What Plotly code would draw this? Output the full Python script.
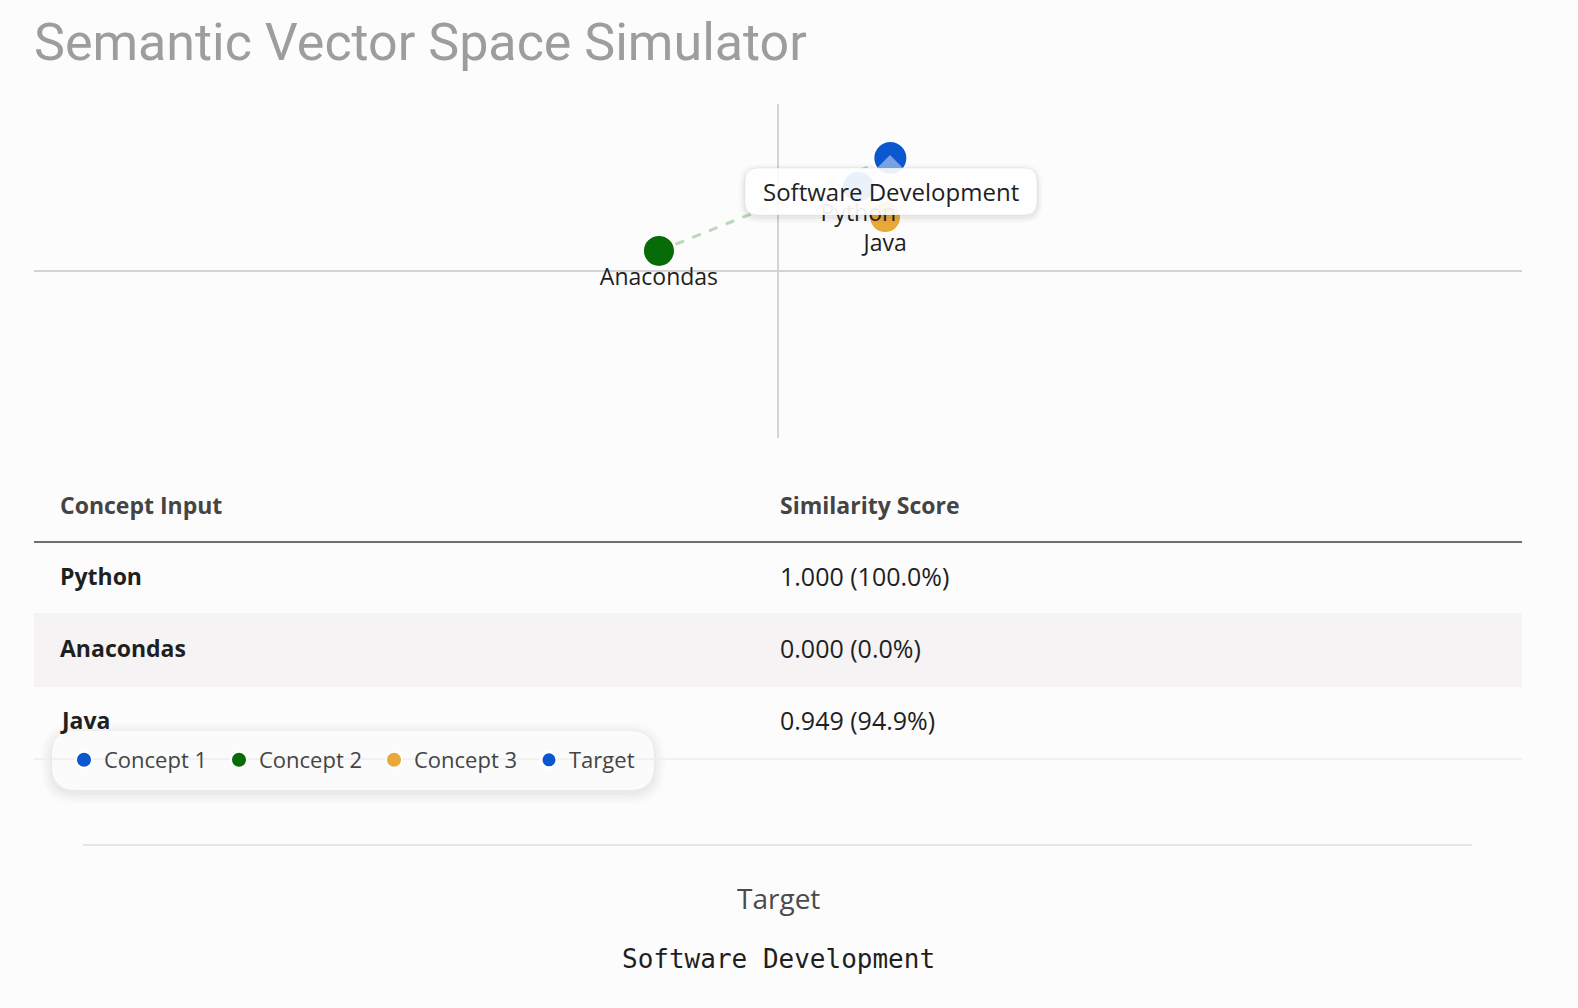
import plotly.graph_objects as go

W, H = 1578, 1008

# ---------------- data ----------------
concept_names = ["Python", "Anacondas", "Java"]
legend_names = ["Concept 1", "Concept 2", "Concept 3"]
concept_x = [0.108, -0.160, 0.144]
concept_y = [0.505, 0.120, 0.323]
concept_colors = ["#0b57d0", "#076b07", "#eaa83a"]
target_name = "Software Development"
target_x = 0.151
target_y = 0.677
target_color = "#0b57d0"
similarity = [1.000, 0.000, 0.949]
table_headers = ["Concept Input", "Similarity Score"]
title_text = "Semantic Vector Space Simulator"

FONT = "Open Sans"


def px(x):
    return x / W


def py(y):
    return 1 - y / H


def rrect(l, t, r, b, rad):
    pts = [
        ("M", l + rad, t), ("L", r - rad, t), ("Q", r, t, r, t + rad),
        ("L", r, b - rad), ("Q", r, b, r - rad, b), ("L", l + rad, b),
        ("Q", l, b, l, b - rad), ("L", l, t + rad), ("Q", l, t, l + rad, t),
    ]
    s = []
    for p in pts:
        if p[0] == "Q":
            s.append(f"Q {px(p[1]):.5f},{py(p[2]):.5f} {px(p[3]):.5f},{py(p[4]):.5f}")
        else:
            s.append(f"{p[0]} {px(p[1]):.5f},{py(p[2]):.5f}")
    return " ".join(s) + " Z"


fig = go.Figure()

# dashed links concept -> target
for i in range(len(concept_names)):
    fig.add_trace(go.Scatter(
        x=[concept_x[i], target_x], y=[concept_y[i], target_y], mode="lines",
        line=dict(color=concept_colors[i], width=3, dash="dash"), opacity=0.25,
        showlegend=False, hoverinfo="skip"))

# concept markers
for i in range(len(concept_names)):
    fig.add_trace(go.Scatter(
        x=[concept_x[i]], y=[concept_y[i]], mode="markers", name=legend_names[i],
        marker=dict(size=32, color=concept_colors[i], line=dict(color="white", width=2)),
        hovertext=[concept_names[i]], hoverinfo="text"))

# target
fig.add_trace(go.Scatter(
    x=[target_x], y=[target_y], mode="markers", name="Target",
    marker=dict(size=35, color=target_color, line=dict(color="white", width=3)),
    hovertext=[target_name], hoverinfo="text"))

# concept labels (as trace text, so the hover card can sit above them)
fig.add_trace(go.Scatter(
    x=concept_x, y=concept_y, mode="markers+text", text=concept_names,
    textposition="bottom center", marker=dict(size=25, opacity=0),
    textfont=dict(family=FONT, size=23, color="#1f1f1f"),
    showlegend=False, hoverinfo="skip"))

annotations = []
shapes = []

# tooltip (hover card) for target
tl, tt, tr, tb = 745, 168, 1037, 215
for k, a in enumerate([0.035, 0.025, 0.015]):
    d = 2 + 2 * k
    shapes.append(dict(type="path", path=rrect(tl - d, tt - d + 2, tr + d, tb + d + 2, 14 + d),
                       xref="paper", yref="paper", fillcolor=f"rgba(0,0,0,{a})",
                       line=dict(width=0), layer="above"))
shapes.append(dict(type="path", path=rrect(tl, tt, tr, tb, 13), xref="paper", yref="paper",
                   fillcolor="rgba(255,255,255,0.92)", line=dict(color="rgba(0,0,0,0.05)", width=1),
                   layer="above"))
# small pointer
shapes.append(dict(type="path",
                   path=f"M {px(877):.5f},{py(168):.5f} L {px(890):.5f},{py(155):.5f} L {px(903):.5f},{py(168):.5f} Z",
                   xref="paper", yref="paper", fillcolor="rgba(255,255,255,0.45)",
                   line=dict(width=0), layer="above"))
annotations.append(dict(x=px((tl + tr) / 2), y=py((tt + tb) / 2), xref="paper", yref="paper",
                        xanchor="center", yanchor="middle",
                        text=target_name, showarrow=False,
                        font=dict(family=FONT, size=24, color="#1f1f1f")))

# title
annotations.append(dict(x=px(32), y=py(43), xref="paper", yref="paper", xanchor="left",
                        yanchor="middle", text=title_text, showarrow=False,
                        font=dict(family="Roboto", size=52, color="#9d9d9d")))

# ---------------- table ----------------
tab_l, tab_r = 34, 1522
col_x = [58, 778]
header_y = 505
header_line = 542
row_h = 72
row_y0 = 543
shapes.append(dict(type="line", x0=px(tab_l), x1=px(tab_r), y0=py(header_line), y1=py(header_line),
                   xref="paper", yref="paper", line=dict(color="#6f6f6f", width=2)))
for j, h in enumerate(table_headers):
    annotations.append(dict(x=px(col_x[j]), y=py(header_y), xref="paper", yref="paper",
                            xanchor="left", yanchor="middle", text=f"<b>{h}</b>", showarrow=False,
                            font=dict(family=FONT, size=23, color="#444444")))
for i, name in enumerate(concept_names):
    top = row_y0 + i * row_h
    bot = top + row_h
    if i % 2 == 1:
        shapes.append(dict(type="rect", x0=px(tab_l), x1=px(tab_r), y0=py(bot), y1=py(top - 2),
                           xref="paper", yref="paper", fillcolor="#f5f3f3", line=dict(width=0),
                           layer="below"))
    cy = (top + bot) / 2 - 3
    annotations.append(dict(x=px(col_x[0]), y=py(cy), xref="paper", yref="paper", xanchor="left",
                            yanchor="middle", text=f"<b>{name}</b>", showarrow=False,
                            font=dict(family=FONT, size=23, color="#1f1f1f")))
    annotations.append(dict(x=px(col_x[1]), y=py(cy), xref="paper", yref="paper", xanchor="left",
                            yanchor="middle", text=f"{similarity[i]:.3f} ({similarity[i]*100:.1f}%)",
                            showarrow=False, font=dict(family=FONT, size=25, color="#1f1f1f")))
last_bot = row_y0 + len(concept_names) * row_h
shapes.append(dict(type="line", x0=px(tab_l), x1=px(tab_r), y0=py(last_bot), y1=py(last_bot),
                   xref="paper", yref="paper", line=dict(color="#eeeeee", width=1.5)))

# legend card
ll, lt, lr, lb = 52, 731, 654, 790
for k, a in enumerate([0.025, 0.02, 0.015, 0.01]):
    d = 2 + 3 * k
    shapes.append(dict(type="path", path=rrect(ll - d, lt - d + 3, lr + d, lb + d + 3, 24 + d),
                       xref="paper", yref="paper", fillcolor=f"rgba(0,0,0,{a})",
                       line=dict(width=0), layer="below"))
shapes.append(dict(type="path", path=rrect(ll, lt, lr, lb, 24), xref="paper", yref="paper",
                   fillcolor="#fbfbfb", line=dict(width=0), layer="below"))

# bottom section
shapes.append(dict(type="line", x0=px(83), x1=px(1472), y0=py(845), y1=py(845),
                   xref="paper", yref="paper", line=dict(color="#e6e6e6", width=2)))
annotations.append(dict(x=px(778), y=py(898), xref="paper", yref="paper", text="Target",
                        xanchor="center", yanchor="middle",
                        showarrow=False, font=dict(family=FONT, size=28, color="#4a4a4a")))
annotations.append(dict(x=px(778), y=py(959), xref="paper", yref="paper", text=target_name,
                        xanchor="center", yanchor="middle",
                        showarrow=False, font=dict(family="DejaVu Sans Mono", size=26, color="#1f1f1f")))

fig.update_layout(
    width=W, height=H, margin=dict(l=0, r=0, t=0, b=0),
    paper_bgcolor="#fcfcfc", plot_bgcolor="#fcfcfc",
    font=dict(family=FONT),
    xaxis=dict(domain=[px(34), px(1522)], range=[-1, 1], showgrid=False, showticklabels=False,
               ticks="", zeroline=True, zerolinecolor="#d4d4d4", zerolinewidth=2, showline=False,
               fixedrange=True),
    yaxis=dict(domain=[py(438), py(104)], range=[-1, 1], showgrid=False, showticklabels=False,
               ticks="", zeroline=True, zerolinecolor="#d4d4d4", zerolinewidth=2, showline=False,
               fixedrange=True),
    showlegend=True,
    legend=dict(orientation="h", x=px(64), y=py(760), xanchor="left", yanchor="middle",
                bgcolor="rgba(0,0,0,0)", font=dict(family=FONT, size=22, color="#444444"),
                itemsizing="trace", traceorder="normal",
                entrywidth=110, entrywidthmode="pixels"),
    shapes=shapes, annotations=annotations,
)

fig.write_html("out.html")
